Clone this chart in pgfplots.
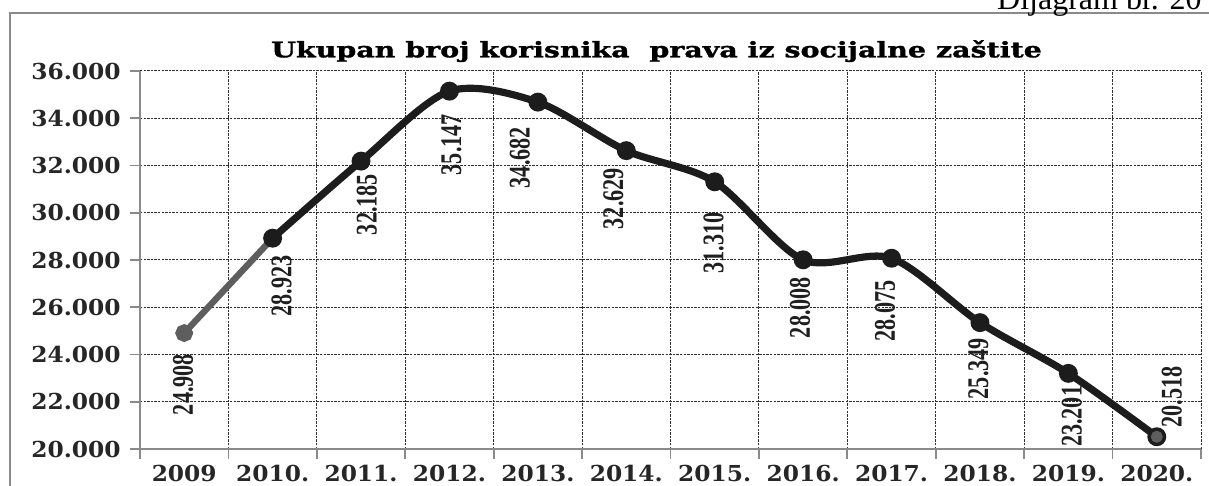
\documentclass[border=0pt]{standalone}
\usepackage{pgfplots}
\pgfplotsset{compat=1.18}
\usepackage{pgfplotstable}
\usepackage{fontspec}
\setmainfont{Liberation Serif}
\newfontfamily\tickfont[FakeStretch=1.06]{DejaVu Serif}
\newfontfamily\titlefont[FakeStretch=1.33, FakeBold=1.5]{DejaVu Serif}
\newfontfamily\labfont[FakeStretch=0.74]{Liberation Serif}

\definecolor{linegray}{HTML}{5E5E5E}
\definecolor{lineblack}{HTML}{1C1C1C}
\definecolor{axisgray}{HTML}{8A8A8A}
\definecolor{gridc}{HTML}{2E2E2E}

\pgfplotstableread{
x y sx sy lab
0 24908 -0.5 -25.75 24.908
1 28923 4.5 -24 28.923
2 32185 2.85 -21.7 32.185
3 35147 1 -26.75 35.147
4 34682 -9 -27.75 34.682
5 32629 -6.5 -24 32.629
6 31310 -0.5 -30.5 31.310
7 28008 -1.5 -23.85 28.008
8 28075 -3.2 -26.5 28.075
9 25349 -0.75 -23 25.349
10 23201 1.75 -21.5 23.201
11 20518 7.5 20 20.518
}\datatab

\begin{document}
\begin{tikzpicture}
\useasboundingbox (0,0) rectangle (604.5pt,243pt);
\clip (0,0) rectangle (604.5pt,243pt);
\draw[axisgray, line width=1pt] (5pt,-10pt) rectangle (615pt,236.6pt);
\node[anchor=base east, inner sep=0pt, font=\fontsize{16}{16}\selectfont] at (601pt,238pt) {Dijagram br. 20};
\node[anchor=base, inner sep=0pt, font=\titlefont\bfseries\fontsize{10.7}{12}\selectfont] at (328.25pt,214.35pt) {Ukupan broj korisnika\ \ prava iz socijalne zaštite};
\begin{axis}[
  at={(70pt,18.5pt)}, anchor=south west,
  scale only axis, width=530.5pt, height=189pt,
  xmin=-0.5, xmax=11.5, ymin=20000, ymax=36000,
  axis x line*=bottom, axis y line*=left,
  axis line style={axisgray, line width=0.9pt},
  xtick={-0.5,0.5,...,11.5}, xticklabels={},
  extra x ticks={0,1,...,11},
  extra x tick labels={2009,2010.,2011.,2012.,2013.,2014.,2015.,2016.,2017.,2018.,2019.,2020.},
  extra x tick style={grid=none, major tick length=0pt},
  ytick={20000,22000,...,36000},
  yticklabels={20.000,22.000,24.000,26.000,28.000,30.000,32.000,34.000,36.000},
  scaled y ticks=false,
  grid=major,
  major grid style={gridc, line width=0.5pt, dash pattern=on 1.2pt off 0.6pt},
  tick style={axisgray, line width=0.9pt},
  major tick length=5pt,
  tick align=outside,
  tick label style={font=\tickfont\bfseries\fontsize{11}{12}\selectfont, text=black!85},
  yticklabel style={anchor=east, inner sep=0pt, xshift=-4.5pt},
  xticklabel style={anchor=north, inner sep=0pt, yshift=-7.8pt},
  clip=false,
]
\addplot[linegray, line width=3.2pt, mark=*, mark size=2.8pt, mark options={fill=linegray, draw=linegray}]
  coordinates {(0,24908) (1,28923)};
\addplot[lineblack, line width=3.6pt, smooth, tension=0.5, mark=*, mark size=2.9pt, mark options={fill=lineblack, draw=lineblack}]
  coordinates {(1,28923) (2,32185) (3,35147) (4,34682) (5,32629) (6,31310) (7,28008) (8,28075) (9,25349) (10,23201) (11,20518)};
\addplot[only marks, mark=*, mark size=2.8pt, mark options={fill=linegray, draw=linegray}]
  coordinates {(11,20518)};
\addplot[draw=none, mark=none, nodes near coords, point meta=explicit symbolic,
  visualization depends on={\thisrow{sx} \as \sx},
  visualization depends on={\thisrow{sy} \as \sy},
  nodes near coords style={font=\labfont\bfseries\fontsize{15}{15}\selectfont, text=black!88, inner sep=0pt, anchor=center, xshift=\sx pt, yshift=\sy pt, rotate=90}]
  table[x=x, y=y, meta=lab] \datatab;
\end{axis}
\end{tikzpicture}
\end{document}
